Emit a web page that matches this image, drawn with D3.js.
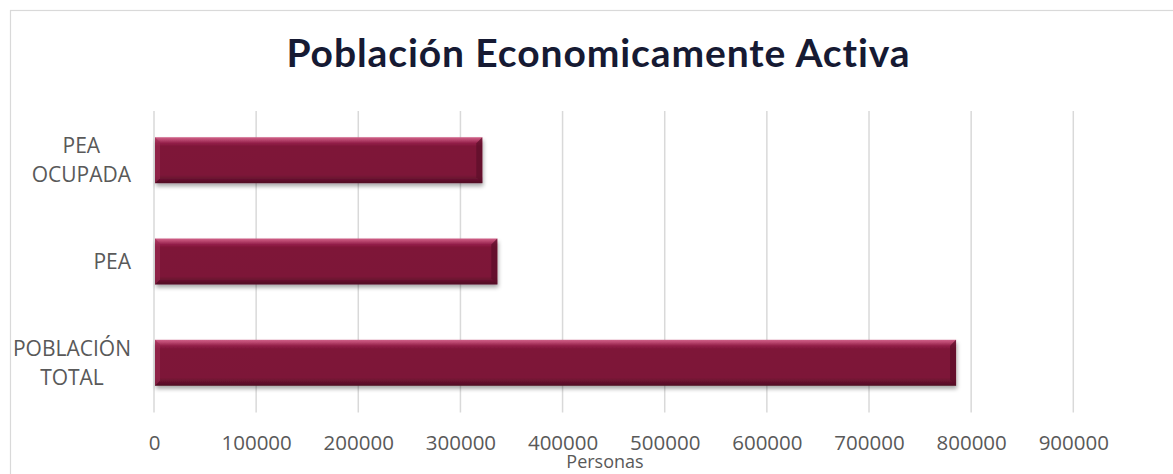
<!DOCTYPE html>
<html>
<head>
<meta charset="utf-8">
<script src="https://cdn.jsdelivr.net/npm/d3@7"></script>
<style>
  html, body { margin: 0; padding: 0; background: #fff; }
  svg { display: block; }
</style>
</head>
<body>
<svg id="chart" width="1173" height="474"></svg>
<script>
const title = "Población Economicamente Activa";
const categories = ["PEA OCUPADA", "PEA", "POBLACIÓN TOTAL"];
const categoryLines = [["PEA", "OCUPADA"], ["PEA"], ["POBLACIÓN", "TOTAL"]];
const values = [321400, 336100, 785200];
const xTicks = [0, 100000, 200000, 300000, 400000, 500000, 600000, 700000, 800000, 900000];
const xAxisTitle = "Personas";

const svg = d3.select("#chart");
const W = 1173, H = 474;

// chart border
svg.append("rect")
  .attr("x", 10.5).attr("y", 10.5)
  .attr("width", W + 20).attr("height", H + 20)
  .attr("fill", "#fff").attr("stroke", "#d9d9d9").attr("stroke-width", 1.2);

const defs = svg.append("defs");
const grad = defs.append("linearGradient").attr("id", "barGrad")
  .attr("x1", 0).attr("y1", 0).attr("x2", 0).attr("y2", 1);
[[0, "#cf6088"], [0.05, "#bd4a72"], [0.13, "#921f48"], [0.2, "#7e1538"], [0.82, "#7d1538"], [0.9, "#6a1230"], [1, "#4e0c22"]]
  .forEach(([o, c]) => grad.append("stop").attr("offset", o).attr("stop-color", c));

const shadow = defs.append("filter").attr("id", "shadow")
  .attr("x", "-5%").attr("y", "-20%").attr("width", "110%").attr("height", "150%");
shadow.append("feGaussianBlur").attr("in", "SourceAlpha").attr("stdDeviation", 2.2).attr("result", "b");
shadow.append("feOffset").attr("in", "b").attr("dx", 1).attr("dy", 3).attr("result", "o");
shadow.append("feComponentTransfer").attr("in", "o").attr("result", "s")
  .append("feFuncA").attr("type", "linear").attr("slope", 0.35);
const merge = shadow.append("feMerge");
merge.append("feMergeNode").attr("in", "s");
merge.append("feMergeNode").attr("in", "SourceGraphic");

const x = d3.scaleLinear().domain([0, 900000]).range([154, 1073.3]);
const y = d3.scaleBand().domain(categories).range([111, 412])
  .paddingInner(0.546).paddingOuter(0.259);

// gridlines
svg.append("g").selectAll("line").data(xTicks).join("line")
  .attr("x1", d => x(d)).attr("x2", d => x(d))
  .attr("y1", 111).attr("y2", 412.5)
  .attr("stroke", "#d9d9d9").attr("stroke-width", 1.5);

// x axis labels via d3 axis
const xAxis = d3.axisBottom(x).tickValues(xTicks).tickSize(0).tickPadding(0).tickFormat(d3.format("d"));
const gx = svg.append("g").attr("transform", "translate(0,435.5)").call(xAxis);
gx.select(".domain").remove();
gx.selectAll("text")
  .attr("dy", "0.71em")
  .attr("fill", "#595959")
  .style("font-family", "'Open Sans', sans-serif")
  .style("font-size", "20.5px");

// bars
const bars = svg.append("g").selectAll("g.bar").data(categories).join("g").attr("class", "bar");
bars.append("rect")
  .attr("x", x(0) + 1)
  .attr("y", d => y(d))
  .attr("width", (d, i) => x(values[i]) - x(0) - 1)
  .attr("height", y.bandwidth())
  .attr("fill", "url(#barGrad)")
  .attr("filter", "url(#shadow)");
// bevel left
bars.append("path")
  .attr("d", d => {
    const x0 = x(0) + 1, y0 = y(d), h = y.bandwidth(), b = 5;
    return `M${x0},${y0} L${x0 + b},${y0 + b} L${x0 + b},${y0 + h - b} L${x0},${y0 + h} Z`;
  })
  .attr("fill", "#9b2b52").attr("opacity", 0.6);
// bevel right
bars.append("path")
  .attr("d", (d, i) => {
    const x1 = x(values[i]), y0 = y(d), h = y.bandwidth(), b = 6;
    return `M${x1},${y0} L${x1 - b},${y0 + b} L${x1 - b},${y0 + h - b} L${x1},${y0 + h} Z`;
  })
  .attr("fill", "#5e0f2a").attr("opacity", 0.75);

// category labels
const catG = svg.append("g");
const catFont = "21px 'Open Sans', sans-serif";
const ctx = document.createElement("canvas").getContext("2d");
ctx.font = catFont;
categories.forEach((c, i) => {
  const lines = categoryLines[i];
  const maxW = d3.max(lines, l => ctx.measureText(l).width);
  const cx = 131 - maxW / 2;
  const cy = y(c) + y.bandwidth() / 2;
  const lh = 29;
  const t = catG.append("text")
    .attr("text-anchor", "middle")
    .attr("fill", "#595959")
    .style("font-family", "'Open Sans', sans-serif")
    .style("font-size", "21px");
  lines.forEach((l, j) => {
    const base = cy + 7.5 + (j - (lines.length - 1) / 2) * lh;
    t.append("tspan").attr("x", cx).attr("y", base).text(l);
  });
});

// axis title
svg.append("text")
  .attr("x", 605).attr("y", 467.5)
  .attr("text-anchor", "middle")
  .attr("fill", "#595959")
  .style("font-family", "'Open Sans', sans-serif")
  .style("font-size", "18px")
  .text(xAxisTitle);

// title
svg.append("text")
  .attr("x", 598.5).attr("y", 66.7)
  .attr("text-anchor", "middle")
  .attr("fill", "#161a33")
  .style("font-family", "Lato, sans-serif")
  .style("font-weight", "700")
  .style("font-size", "39px")
  .style("letter-spacing", "0.9px")
  .text(title);
</script>
</body>
</html>
